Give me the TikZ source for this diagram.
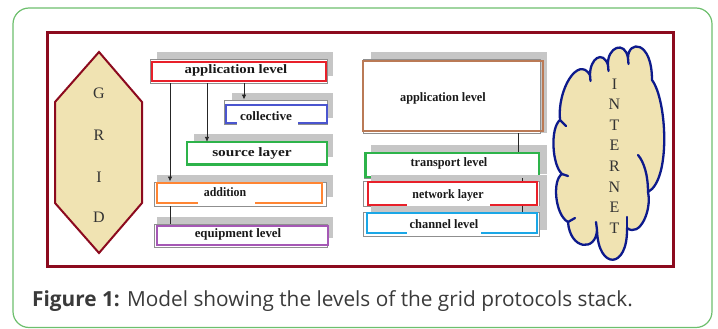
\documentclass[tikz,border=0pt]{standalone}
\usepackage{fontspec}
\usepackage{graphicx}
\setmainfont{Liberation Serif}
\newfontfamily\capfont{Open Sans}
\usetikzlibrary{arrows.meta,fit}

\definecolor{framered}{HTML}{8C0A1E}
\definecolor{hexfill}{HTML}{F0E3B2}
\definecolor{cloudnavy}{HTML}{0D1A8C}
\definecolor{redb}{HTML}{E8202A}
\definecolor{blueb}{HTML}{4A55CF}
\definecolor{greenb}{HTML}{2DB34A}
\definecolor{orangeb}{HTML}{FF8533}
\definecolor{purpleb}{HTML}{A558B5}
\definecolor{brownb}{HTML}{BA7A56}
\definecolor{cyanb}{HTML}{1BA7E6}
\definecolor{shadowc}{HTML}{C6C6C6}
\definecolor{outlinec}{HTML}{8F8F8F}
\definecolor{outergreen}{HTML}{6DBF6D}
\definecolor{capgray}{HTML}{3A3A3A}

\tikzset{
  shadowbox/.style={fill=shadowc},
  graybox/.style={draw=outlinec, fill=white, line width=0.9pt, inner sep=0pt},
  colbox/.style={draw=#1, line width=2.2pt, inner sep=0pt},
  lbl/.style={font=\bfseries\fontsize{12.8}{14}\selectfont, text=black!90, inner sep=0pt},
  bigletter/.style={font=\fontsize{16}{18}\selectfont, text=black!80, inner sep=0pt},
  conn/.style={draw=black!85, line width=0.8pt},
  arr/.style={conn, -{Latex[length=5pt,width=4.5pt]}},
  cloudline/.style={draw=cloudnavy, line width=2.3pt, line cap=round, line join=round},
}

\begin{document}
\begin{tikzpicture}[x=1pt,y=-1pt]
\useasboundingbox (0,0) rectangle (718,329);

% outer rounded frame and inner picture frame
\draw[outergreen, line width=1.2pt, rounded corners=16pt] (13,8) rectangle (712,327.5);
\draw[framered, line width=3pt] (47,33) rectangle (673,266);

% GRID hexagon
\draw[framered, fill=hexfill, line width=2pt, line join=miter]
  (99,52) -- (142,102) -- (142,203) -- (99,253) -- (55,203) -- (55,102) -- cycle;
\foreach \l/\y in {G/93,R/135,I/177,D/217}
  \node[bigletter] (grid\l) at (99,\y) {\l};

% ---------- left stack ----------
% application level
\fill[shadowbox] (157,52) rectangle (333,76);
\node[graybox, fit={(150,59) (327,83)}] (appL) {};
\node[colbox=redb, fit={(152,62) (326,81)}] (appLc) {};
\node[lbl] (appLt) at (236,70.5) {\scalebox{1.15}[1]{application level}};

% collective
\fill[shadowbox] (232,93) rectangle (333,118);
\node[graybox, fit={(224,100) (327,124)}] (coll) {};
\node[colbox=blueb, fit={(226,105) (327,123)}] (collc) {};
\fill[white] (237,112) rectangle (298,125);
\node[lbl] (collt) at (266,116) {\scalebox{1.03}[1]{collective}};

% source layer
\fill[shadowbox] (194,134) rectangle (333,157);
\node[colbox=greenb, fill=white, fit={(187,142) (327,164.5)}] (src) {};
\node[lbl] (srct) at (252,153.5) {\scalebox{1.2}[1]{source layer}};

% addition
\fill[shadowbox] (157,175) rectangle (333,197);
\node[graybox, fit={(154,182) (326,206)}] (add) {};
\node[colbox=orangeb, fit={(157,183) (322,203)}] (addc) {};
\fill[white] (198,186) rectangle (255,205);
\node[lbl] (addt) at (225,192) {\scalebox{0.93}[1]{addition}};

% equipment level
\fill[shadowbox] (157,217) rectangle (333,238);
\node[graybox, fit={(154,224) (327,247)}] (equ) {};
\node[colbox=purpleb, fit={(157,226) (328,245)}] (equc) {};
\node[lbl] (equt) at (238,234.5) {equipment level};

% connectors of the left stack
\coordinate (xa) at (170,0);
\coordinate (xb) at (207,0);
\coordinate (xc) at (244,0);
\draw[arr] (appL.south -| xa) -- (add.north -| xa);
\draw[conn] (add.south -| xa) -- (equ.north -| xa);
\draw[arr] (appL.south -| xb) -- ([yshift=-1pt]src.north -| xb);
\draw[arr] (appL.south -| xc) -- (coll.north -| xc);

% ---------- right stack ----------
% application level
\fill[shadowbox] (371,52) rectangle (547,133);
\node[graybox, fit={(363,59) (540,133)}] (appR) {};
\node[colbox=brownb, fit={(363,61) (543,131)}] (appRc) {};
\node[lbl] (appRt) at (443,98.5) {\scalebox{0.96}[1]{application level}};

% transport level
\fill[shadowbox] (371,145) rectangle (547,174);
\node[graybox, fit={(364,152) (539,178)}] (trans) {};
\node[colbox=greenb, fit={(365.5,153) (539,177)}] (transc) {};
\node[lbl] (transt) at (449,163.5) {\scalebox{0.96}[1]{transport level}};

% network layer
\fill[shadowbox] (371,175) rectangle (547,207);
\node[graybox, fit={(363,181) (539,206)}] (net) {};
\node[colbox=redb, fit={(368,182) (537,205)}] (netc) {};
\fill[white] (407,189) rectangle (490,207);
\node[lbl] (nett) at (448,195.5) {\scalebox{0.93}[1]{network layer}};

% channel level
\fill[shadowbox] (371,206) rectangle (547,230);
\node[graybox, fit={(363,212) (539,236)}] (chan) {};
\node[colbox=cyanb, fit={(367,213) (537,233)}] (chanc) {};
\fill[white] (407,218) rectangle (481,235);
\node[lbl] (chant) at (444,224.5) {\scalebox{0.97}[1]{channel level}};

% connectors of the right stack
\coordinate (xd) at (518,0);
\coordinate (xe) at (522,0);
\draw[conn] (appR.south -| xd) -- (trans.north -| xd);
\draw[conn] (trans.south -| xe) -- (net.north -| xe);
\draw[conn] (net.south -| xe) -- (chan.north -| xe);

% ---------- INTERNET cloud ----------
\draw[cloudline, fill=hexfill] (560,120)
  .. controls (557,90) and (578,55) .. (590,75)
  .. controls (590,58) and (603,50) .. (608,65)
  .. controls (607,47) and (625,40) .. (628,58)
  .. controls (628,40) and (652,40) .. (652,80)
  .. controls (667,100) and (671,180) .. (648,192)
  .. controls (652,210) and (640,238) .. (627,228)
  .. controls (628,270) and (598,270) .. (597,230)
  .. controls (596,252) and (570,250) .. (568,222)
  .. controls (555,215) and (552,180) .. (562,174)
  .. controls (552,165) and (550,128) .. (560,120) -- cycle;
% inner creases of the cloud
\draw[cloudline] (590,75) -- (590.5,81);
\draw[cloudline] (608,65) -- (608.5,71);
\draw[cloudline] (628,58) -- (628.5,64);
\draw[cloudline] (648,192) .. controls (648,175) and (644,162) .. (638,155);
\draw[cloudline] (627,228) -- (627,217);
\draw[cloudline] (597,230) -- (596,222);
\draw[cloudline] (568,222) -- (575,218);
\draw[cloudline] (562,174) -- (568,176);
\draw[cloudline] (560,120) -- (566,126);

\foreach \l [count=\i from 0] in {I,N,T,E,R,N,E,T}
  \node[bigletter] (inet\i) at (614.5,84+20.57*\i) {\l};

% ---------- caption ----------
\node[anchor=base west, inner sep=0pt, text=capgray,
      font=\capfont\fontsize{20.8}{24}\selectfont] (cap) at (32,306)
  {\textbf{Figure 1:} Model showing the levels of the grid protocols stack.};
\end{tikzpicture}
\end{document}
